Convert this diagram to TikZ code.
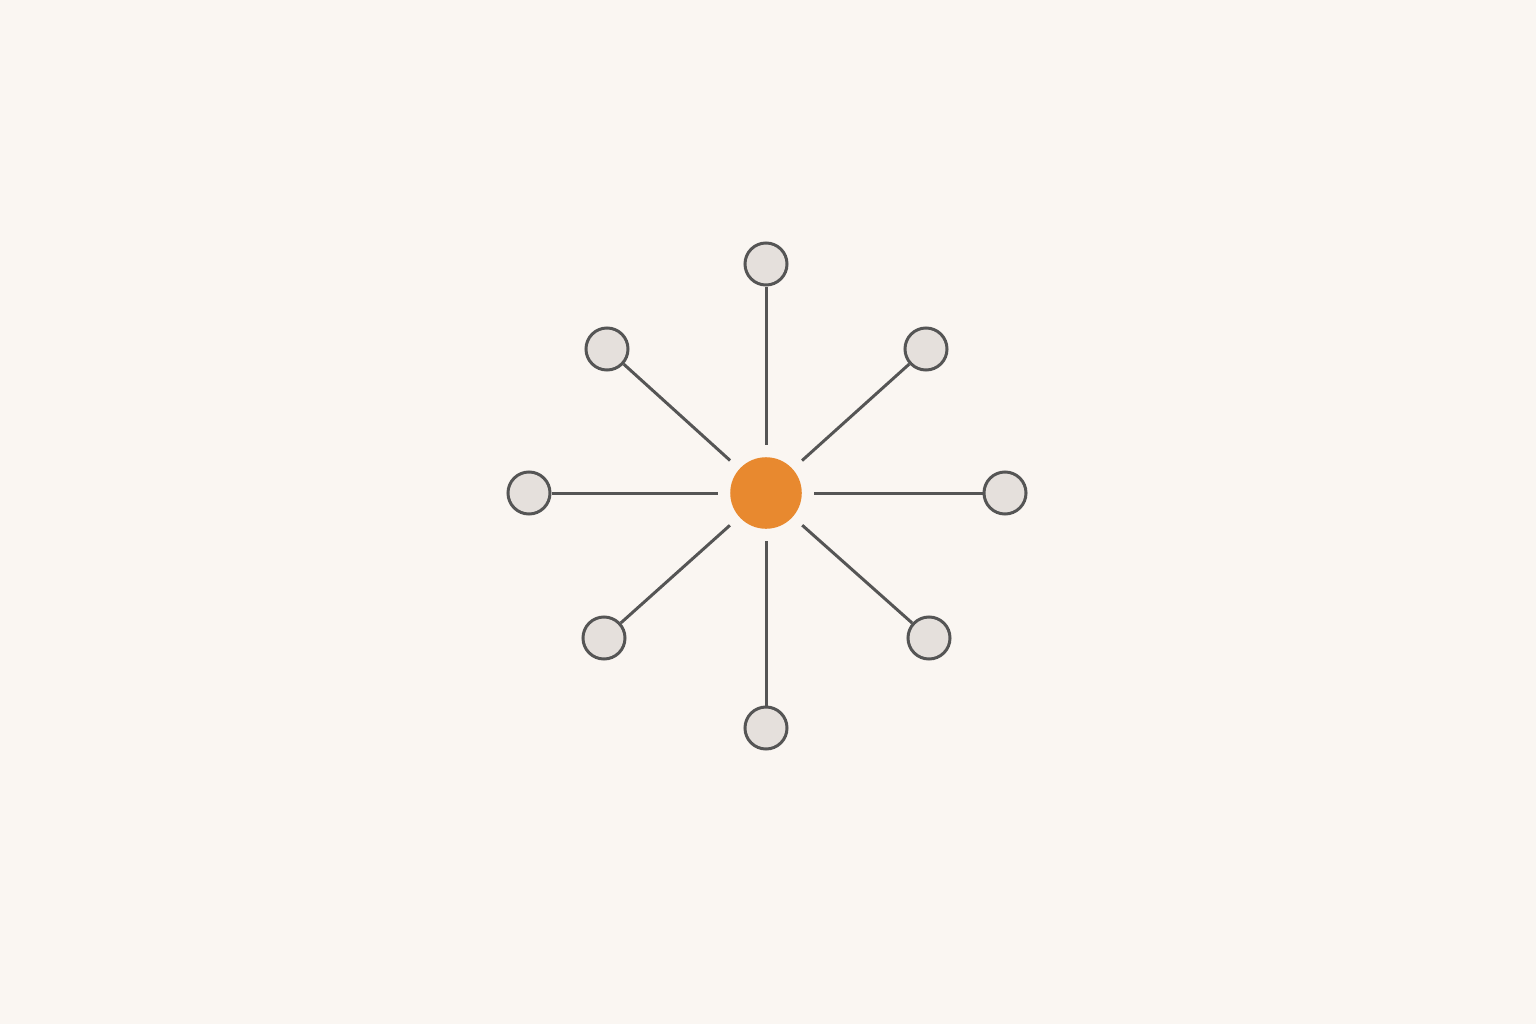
\documentclass[tikz,border=0pt]{standalone}
\usepackage{tikz}
\usetikzlibrary{math}
\definecolor{paper}{HTML}{FAF6F2}
\definecolor{hubcol}{HTML}{E8892F}
\definecolor{leafcol}{HTML}{E5E0DC}
\definecolor{ink}{HTML}{555555}
\tikzset{
    hub/.style={circle, fill=hubcol, minimum size=0.715cm, inner sep=0pt},
    leaf/.style={circle, draw=ink, fill=leafcol, line width=0.85pt, minimum size=0.42cm, inner sep=0pt},
    spoke/.style={draw=ink, line width=0.85pt, shorten >=#1},
    spoke/.default={0.12cm}
}
\begin{document}
\begin{tikzpicture}[x=0.01cm, y=-0.01cm]
	\tikzmath{\g = 0.12;}
	\fill[paper] (0,0) rectangle (1536,1024);
	\useasboundingbox (0,0) rectangle (1536,1024);
	
	\node[hub] (C) at (766,493) {};
	\node[leaf] (N) at (766,264) {};
	\node[leaf] (NW) at (607,349) {};
	\node[leaf] (NE) at (926,349) {};
	\node[leaf] (W) at (529,493) {};
	\node[leaf] (E) at (1005,493) {};
	\node[leaf] (SW) at (604,638) {};
	\node[leaf] (SE) at (929,638) {};
	\node[leaf] (S) at (766,728) {};
	
	%\draw[spoke] (C) -- (N);
	\draw[spoke=\g cm] (N) -- (C);
	\draw[spoke=\g cm] (NW) -- (C);
	\draw[spoke=\g cm] (NE) -- (C);
	\draw[spoke=\g cm] (W) -- (C);
	\draw[spoke=\g cm] (E) -- (C);
	\draw[spoke=\g cm] (SW) -- (C);
	\draw[spoke=\g cm] (SE) -- (C);
	\draw[spoke=\g cm] (S) -- (C);
\end{tikzpicture}
\end{document}
